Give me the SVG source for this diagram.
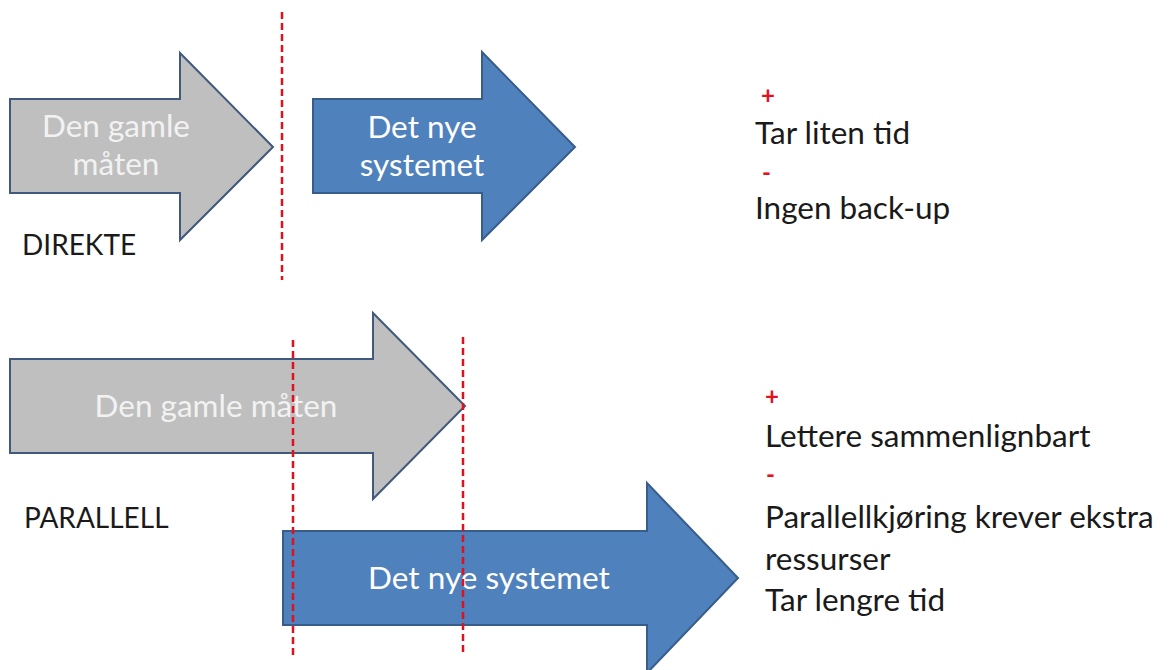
<svg xmlns="http://www.w3.org/2000/svg" width="1171" height="670" viewBox="0 0 1171 670">
  <style>
    .old { fill: #bfbfbf; stroke: #41597c; stroke-width: 2; stroke-linejoin: miter; }
    .new { fill: #4f81bd; stroke: #385d8a; stroke-width: 2; stroke-linejoin: miter; }
    .lbl { font-family: Lato, "Liberation Sans", sans-serif; font-size: 31.5px; text-anchor: middle; }
    .lbl-old { fill: #f2f2f2; }
    .lbl-new { fill: #ffffff; }
    .txt { font-family: Lato, "Liberation Sans", sans-serif; font-size: 31.5px; fill: #1a1a1a; }
    .cap { font-family: Lato, "Liberation Sans", sans-serif; font-size: 28px; fill: #1a1a1a; }
    .sign { font-family: Lato, "Liberation Sans", sans-serif; font-size: 24px; font-weight: bold; fill: #e8101c; }
    .cut { stroke: #e0101c; stroke-width: 2.5; stroke-dasharray: 7 4; fill: none; }
  </style>

  <!-- Direct changeover -->
  <g id="direkte-gammel">
    <path class="old" d="M10 99 H180 V53 L273 147 L180 240 V193 H10 Z"/>
    <text class="lbl lbl-old" x="116" y="137">Den gamle</text>
    <text class="lbl lbl-old" x="116" y="175">måten</text>
  </g>
  <g id="direkte-ny">
    <path class="new" d="M313 99 H482 V52 L575 147 L482 240 V193 H313 Z"/>
    <text class="lbl lbl-new" x="422" y="138">Det nye</text>
    <text class="lbl lbl-new" x="422" y="176">systemet</text>
  </g>
  <g id="direkte-label">
    <text class="cap" x="22" y="255">DIREKTE</text>
  </g>

  <!-- Parallel changeover -->
  <g id="parallell-gammel">
    <path class="old" d="M10 359 H373 V313 L465 406 L373 499 V453 H10 Z"/>
    <text class="lbl lbl-old" x="216" y="417">Den gamle måten</text>
  </g>
  <g id="parallell-ny">
    <path class="new" d="M283 531 H647 V483 L738 578 L647 673 V625 H283 Z"/>
    <text class="lbl lbl-new" x="489" y="589">Det nye systemet</text>
  </g>
  <g id="parallell-label">
    <text class="cap" x="24" y="528">PARALLELL</text>
  </g>

  <!-- Cut-over markers -->
  <g id="connectors">
    <line class="cut" x1="282" y1="12" x2="282" y2="280"/>
    <line class="cut" x1="293" y1="340" x2="293" y2="656"/>
    <line class="cut" x1="463" y1="337" x2="463" y2="653"/>
  </g>

  <!-- Pros and cons -->
  <g id="direkte-notes">
    <text class="sign" x="761" y="104">+</text>
    <text class="txt" x="755" y="144">Tar liten tid</text>
    <text class="sign" x="762" y="181">-</text>
    <text class="txt" x="755" y="219">Ingen back-up</text>
  </g>
  <g id="parallell-notes">
    <text class="sign" x="765" y="405">+</text>
    <text class="txt" x="765" y="447">Lettere sammenlignbart</text>
    <text class="sign" x="766" y="483">-</text>
    <text class="txt" x="765" y="528">Parallellkjøring krever ekstra</text>
    <text class="txt" x="765" y="570">ressurser</text>
    <text class="txt" x="765" y="611">Tar lengre tid</text>
  </g>
</svg>
